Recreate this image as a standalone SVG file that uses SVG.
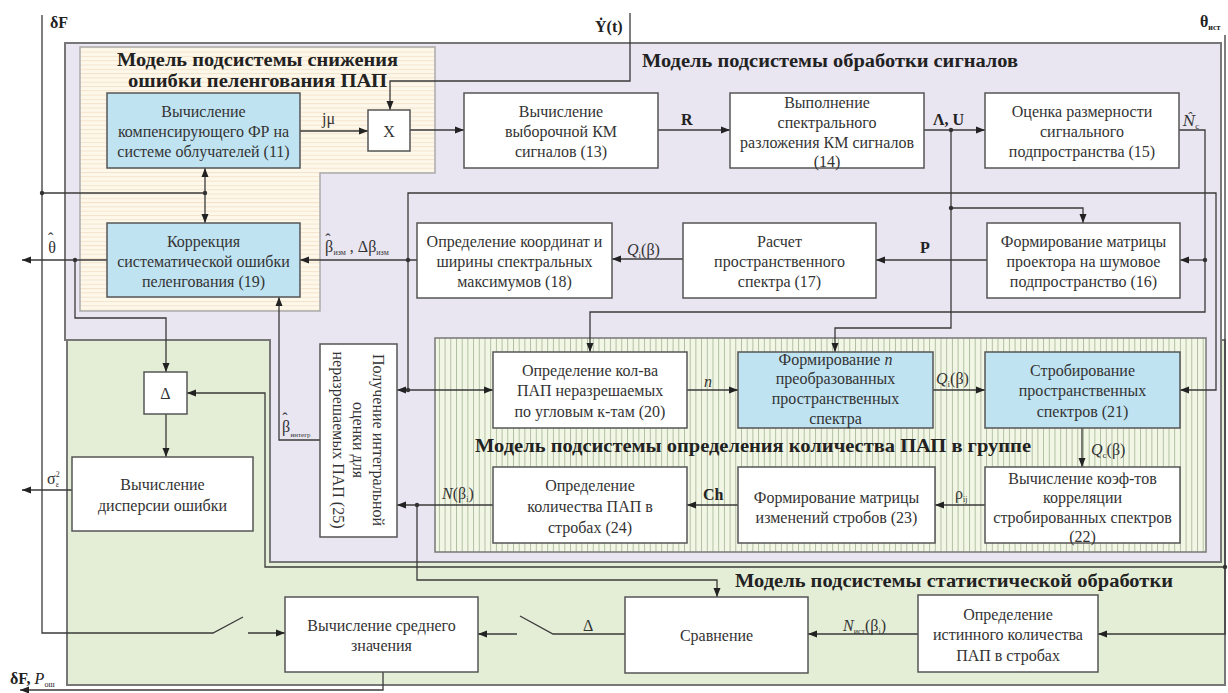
<svg xmlns="http://www.w3.org/2000/svg" width="1228" height="693" viewBox="0 0 1228 693">
<style>
.t{font-family:"Liberation Serif","Times New Roman",serif;font-size:16px;fill:#333;text-anchor:middle;dominant-baseline:central}
.ttl{font-family:"Liberation Serif","Times New Roman",serif;font-weight:bold;font-size:18px;fill:#222}
.lb{font-family:"Liberation Serif","Times New Roman",serif;font-size:16px;fill:#333}
.dj{font-family:"DejaVu Serif",serif}
.b{font-weight:bold;fill:#222}
.i{font-style:italic}
.box{fill:#fff;stroke:#555;stroke-width:1.5}
.blue{fill:#c0e3f2;stroke:#555;stroke-width:1.5}
.c{fill:none;stroke:#3a3a3a;stroke-width:1.3}
.a{marker-end:url(#ah)}
.dot{fill:#333}
</style>
<defs>
<marker id="ah" markerWidth="10" markerHeight="8" refX="9" refY="4" orient="auto" markerUnits="userSpaceOnUse"><path d="M0,0.5 L9,4 L0,7.5 Z" fill="#222"/></marker>
<pattern id="hs" patternUnits="userSpaceOnUse" width="10" height="4.3"><rect width="10" height="4.3" fill="#fdf8ea"/><line x1="0" y1="0.5" x2="10" y2="0.5" stroke="#f0dcc2" stroke-width="0.8"/></pattern>
<pattern id="vs" patternUnits="userSpaceOnUse" width="5.7" height="10"><rect width="5.7" height="10" fill="#f2f7e5"/><line x1="0.5" y1="0" x2="0.5" y2="10" stroke="#a9b89a" stroke-width="0.9"/></pattern>
</defs>
<rect width="1228" height="693" fill="#fff"/>

<g id="region-stat">
<rect x="67" y="340" width="1158" height="345" fill="#e4edd6" stroke="#777" stroke-width="2"/>
<text class="ttl" x="735" y="587" textLength="438" lengthAdjust="spacingAndGlyphs">Модель подсистемы статистической обработки</text>
</g>
<g id="region-signal">
<path d="M65,43 H1221 V562 H270 V340 H65 Z" fill="#e9e5f1" stroke="#777" stroke-width="2"/>
<text class="ttl" x="642" y="67" textLength="376" lengthAdjust="spacingAndGlyphs">Модель подсистемы обработки сигналов</text>
</g>
<g id="region-error">
<path d="M80,47 H435 V173 H320 V311 H80 Z" fill="url(#hs)" stroke="#aaa" stroke-width="1.5"/>
<text class="ttl" x="117" y="66" textLength="281" lengthAdjust="spacingAndGlyphs">Модель подсистемы снижения</text>
<text class="ttl" x="128" y="87" textLength="259" lengthAdjust="spacingAndGlyphs">ошибки пеленгования ПАП</text>
</g>
<g id="region-count">
<rect x="435" y="338" width="771" height="214" fill="url(#vs)" stroke="#777" stroke-width="1.5"/>
<text class="ttl" x="475" y="452" textLength="556" lengthAdjust="spacingAndGlyphs">Модель подсистемы определения количества ПАП в группе</text>
</g>

<g id="connectors">
<path class="c a" d="M630,13 V81 H390 V110"/>
<path class="c a" d="M300,131 H368"/>
<path class="c a" d="M410,130 H464"/>
<path class="c a" d="M658,130 H730"/>
<path class="c a" d="M924,130 H985"/>
<path class="c a" d="M951,130 V328 H835 V352"/>
<path class="c a" d="M951,208 H1083 V223"/>
<path class="c a" d="M1179,130 H1205 V312 H590 V352"/>
<path class="c a" d="M1205,260 H1180"/>
<path class="c a" d="M987,260 H876"/>
<path class="c a" d="M683,259 H612"/>
<path class="c a" d="M417,260 H300"/>
<path class="c a" d="M408,390 V193 H1216 V390 H1180"/>
<path class="c a" d="M408,390 H397"/>
<path class="c a" d="M408,390 H493"/>
<path class="c a" d="M687,390 H738"/>
<path class="c a" d="M933,390 H985"/>
<path class="c a" d="M1082,428 V467"/>
<path class="c a" d="M985,505 H935"/>
<path class="c a" d="M738,505 H687"/>
<path class="c a" d="M493,505 H397"/>
<path class="c a" d="M417,505 V580 H717 V597"/>
<path class="c a" d="M320,440 H279 V297"/>
<path class="c a" d="M107,260 H22"/>
<path class="c a" d="M75,260 V318 H166 V372"/>
<path class="c a" d="M166,414 V457"/>
<path class="c a" d="M72,490 H22"/>
<path class="c" d="M42,15 V633 H213 L243,617"/>
<path class="c a" d="M248,633 H285"/>
<path class="c" d="M42,193 H205"/>
<path class="c a" d="M205,193 V168"/>
<path class="c a" d="M205,193 V223"/>
<path class="c a" d="M1225,35 V634 H1098"/>
<path class="c a" d="M1225,567 H265 V393 H187"/>
<path class="c a" d="M918,634 H808"/>
<path class="c" d="M625,634 H553 L520,616"/>
<path class="c a" d="M517,634 H478"/>
<path class="c a" d="M383,672 V690 H20"/>
<circle class="dot" cx="951" cy="130" r="2.2"/>
<circle class="dot" cx="951" cy="208" r="2.2"/>
<circle class="dot" cx="1205" cy="260" r="2.2"/>
<circle class="dot" cx="408" cy="260" r="2.2"/>
<circle class="dot" cx="408" cy="390" r="2.2"/>
<circle class="dot" cx="417" cy="505" r="2.2"/>
<circle class="dot" cx="75" cy="260" r="2.2"/>
<circle class="dot" cx="42" cy="193" r="2.2"/>
<circle class="dot" cx="205" cy="193" r="2.2"/>
<circle class="dot" cx="1225" cy="567" r="2.2"/>
</g>

<g id="labels">
<text class="lb b" x="50" y="28">δF</text>
<text class="lb b" x="595" y="32" font-size="17">Ẏ(t)</text>
<text class="lb b" x="1200" y="27">θ<tspan font-size="8" dy="3">ист</tspan></text>
<text class="lb" x="322" y="124" font-size="15">jμ</text>
<text class="lb b" x="681" y="125" font-size="17">R</text>
<text class="lb b" x="933" y="125">Λ, U</text>
<text class="lb" x="1183" y="126"><tspan class="i dj" font-size="14">N̂</tspan><tspan font-size="9" dy="3">c</tspan></text>
<text class="lb b" x="920" y="253" font-size="17">P</text>
<text class="lb" x="627" y="255"><tspan class="i">Q</tspan><tspan font-size="9" dy="3">i</tspan><tspan dy="-3">(β)</tspan></text>
<text class="lb" x="325" y="252" font-size="17">β<tspan dx="-8" dy="-7">ˆ</tspan><tspan font-size="8" dx="3" dy="10">изм</tspan><tspan dy="-3"> , Δβ</tspan><tspan font-size="8" dy="3">изм</tspan></text>
<text class="lb" x="48" y="253" font-size="18">θ<tspan dx="-8" dy="-9">ˆ</tspan></text>
<text class="lb" x="282" y="432" font-size="18">β<tspan dx="-8" dy="-8">ˆ</tspan><tspan font-size="7" dx="3" dy="13">интегр</tspan></text>
<text class="lb i" x="704" y="387">n</text>
<text class="lb" x="936" y="384"><tspan class="i">Q</tspan><tspan font-size="9" dy="3">i</tspan><tspan dy="-3">(β)</tspan></text>
<text class="lb" x="1091" y="455"><tspan class="i">Q</tspan><tspan font-size="9" dy="3">c</tspan><tspan dy="-3">(β)</tspan></text>
<text class="lb" x="955" y="499">ρ<tspan font-size="8" dy="3">ij</tspan></text>
<text class="lb b" x="703" y="500">Ch</text>
<text class="lb" x="442" y="499"><tspan class="i">N</tspan>(β<tspan font-size="8" dy="3">i</tspan><tspan dy="-3">)</tspan></text>
<text class="lb" x="47" y="484">σ<tspan font-size="8" dy="-7">2</tspan><tspan font-size="8" dx="-4" dy="10">ε</tspan></text>
<text class="lb" x="843" y="631"><tspan class="i">N</tspan><tspan font-size="8" dy="3">ист</tspan><tspan dy="-3">(β</tspan><tspan font-size="8" dy="3">i</tspan><tspan dy="-3">)</tspan></text>
<text class="lb" x="583" y="631">Δ</text>
<text class="lb b" x="10" y="684">δF, <tspan class="i" font-weight="normal">P</tspan><tspan font-size="8" font-weight="normal" dy="3">ош</tspan></text>
</g>

<g id="n11"><rect class="blue" x="107" y="93" width="193" height="75"/>
<text class="t" x="203.5" y="111">Вычисление</text><text class="t" x="203.5" y="131">компенсирующего ФР на</text><text class="t" x="203.5" y="151">системе облучателей (11)</text></g>
<g id="nX"><rect class="box" x="368" y="110" width="42" height="41"/><text class="t" x="389" y="131" font-size="20">X</text></g>
<g id="n13"><rect class="box" x="464" y="93" width="194" height="75"/>
<text class="t" x="561" y="111">Вычисление</text><text class="t" x="561" y="131">выборочной КМ</text><text class="t" x="561" y="151">сигналов (13)</text></g>
<g id="n14"><rect class="box" x="730" y="93" width="194" height="75"/>
<text class="t" x="827" y="102">Выполнение</text><text class="t" x="827" y="122">спектрального</text><text class="t" x="827" y="142">разложения КМ сигналов</text><text class="t" x="827" y="161">(14)</text></g>
<g id="n15"><rect class="box" x="985" y="93" width="194" height="75"/>
<text class="t" x="1082" y="111">Оценка размерности</text><text class="t" x="1082" y="131">сигнального</text><text class="t" x="1082" y="151">подпространства (15)</text></g>
<g id="n19"><rect class="blue" x="107" y="223" width="193" height="74"/>
<text class="t" x="203.5" y="241">Коррекция</text><text class="t" x="203.5" y="261">систематической ошибки</text><text class="t" x="203.5" y="281">пеленгования (19)</text></g>
<g id="n18"><rect class="box" x="417" y="223" width="195" height="75"/>
<text class="t" x="514.5" y="241">Определение координат и</text><text class="t" x="514.5" y="261">ширины спектральных</text><text class="t" x="514.5" y="281">максимумов  (18)</text></g>
<g id="n17"><rect class="box" x="683" y="223" width="193" height="75"/>
<text class="t" x="779.5" y="241">Расчет</text><text class="t" x="779.5" y="261">пространственного</text><text class="t" x="779.5" y="281">спектра (17)</text></g>
<g id="n16"><rect class="box" x="987" y="223" width="193" height="75"/>
<text class="t" x="1083.5" y="241">Формирование матрицы</text><text class="t" x="1083.5" y="261">проектора на шумовое</text><text class="t" x="1083.5" y="281">подпространство (16)</text></g>
<g id="n25"><rect class="box" x="320" y="344" width="77" height="193"/>
<g transform="translate(358.5,440) rotate(90)"><text class="t" x="0" y="-20">Получение интегральной</text><text class="t" x="0" y="0">оценки для</text><text class="t" x="0" y="20">неразрешаемых ПАП (25)</text></g></g>
<g id="n20"><rect class="box" x="493" y="352" width="194" height="76"/>
<text class="t" x="590" y="370">Определение кол-ва</text><text class="t" x="590" y="390">ПАП  неразрешаемых</text><text class="t" x="590" y="411">по угловым к-там (20)</text></g>
<g id="nFn"><rect class="blue" x="738" y="352" width="195" height="76"/>
<text class="t" x="835.5" y="359">Формирование <tspan class="i">n</tspan></text><text class="t" x="835.5" y="378">преобразованных</text><text class="t" x="835.5" y="398">пространственных</text><text class="t" x="835.5" y="418">спектра</text></g>
<g id="n21"><rect class="blue" x="985" y="352" width="195" height="76"/>
<text class="t" x="1082.5" y="370">Стробирование</text><text class="t" x="1082.5" y="390">пространственных</text><text class="t" x="1082.5" y="411">спектров (21)</text></g>
<g id="n22"><rect class="box" x="985" y="467" width="195" height="76"/>
<text class="t" x="1082.5" y="478">Вычисление коэф-тов</text><text class="t" x="1082.5" y="497">корреляции</text><text class="t" x="1082.5" y="517">стробированных спектров</text><text class="t" x="1082.5" y="536">(22)</text></g>
<g id="n23"><rect class="box" x="738" y="467" width="197" height="76"/>
<text class="t" x="836.5" y="497">Формирование матрицы</text><text class="t" x="836.5" y="517">изменений стробов (23)</text></g>
<g id="n24"><rect class="box" x="493" y="467" width="194" height="76"/>
<text class="t" x="590" y="485">Определение</text><text class="t" x="590" y="506">количества ПАП в</text><text class="t" x="590" y="527">стробах (24)</text></g>
<g id="nDelta"><rect class="box" x="144" y="372" width="43" height="42"/><text class="t" x="165.5" y="393" font-size="17">Δ</text></g>
<g id="nDisp"><rect class="box" x="72" y="457" width="181" height="74"/>
<text class="t" x="162.5" y="484">Вычисление</text><text class="t" x="162.5" y="505">дисперсии ошибки</text></g>
<g id="nMean"><rect class="box" x="285" y="597" width="193" height="75"/>
<text class="t" x="381.5" y="625">Вычисление среднего</text><text class="t" x="381.5" y="645">значения</text></g>
<g id="nCmp"><rect class="box" x="625" y="597" width="183" height="76"/>
<text class="t" x="716.5" y="635">Сравнение</text></g>
<g id="nTrue"><rect class="box" x="918" y="595" width="180" height="77"/>
<text class="t" x="1008" y="614">Определение</text><text class="t" x="1008" y="634">истинного количества</text><text class="t" x="1008" y="655">ПАП в стробах</text></g>
</svg>
